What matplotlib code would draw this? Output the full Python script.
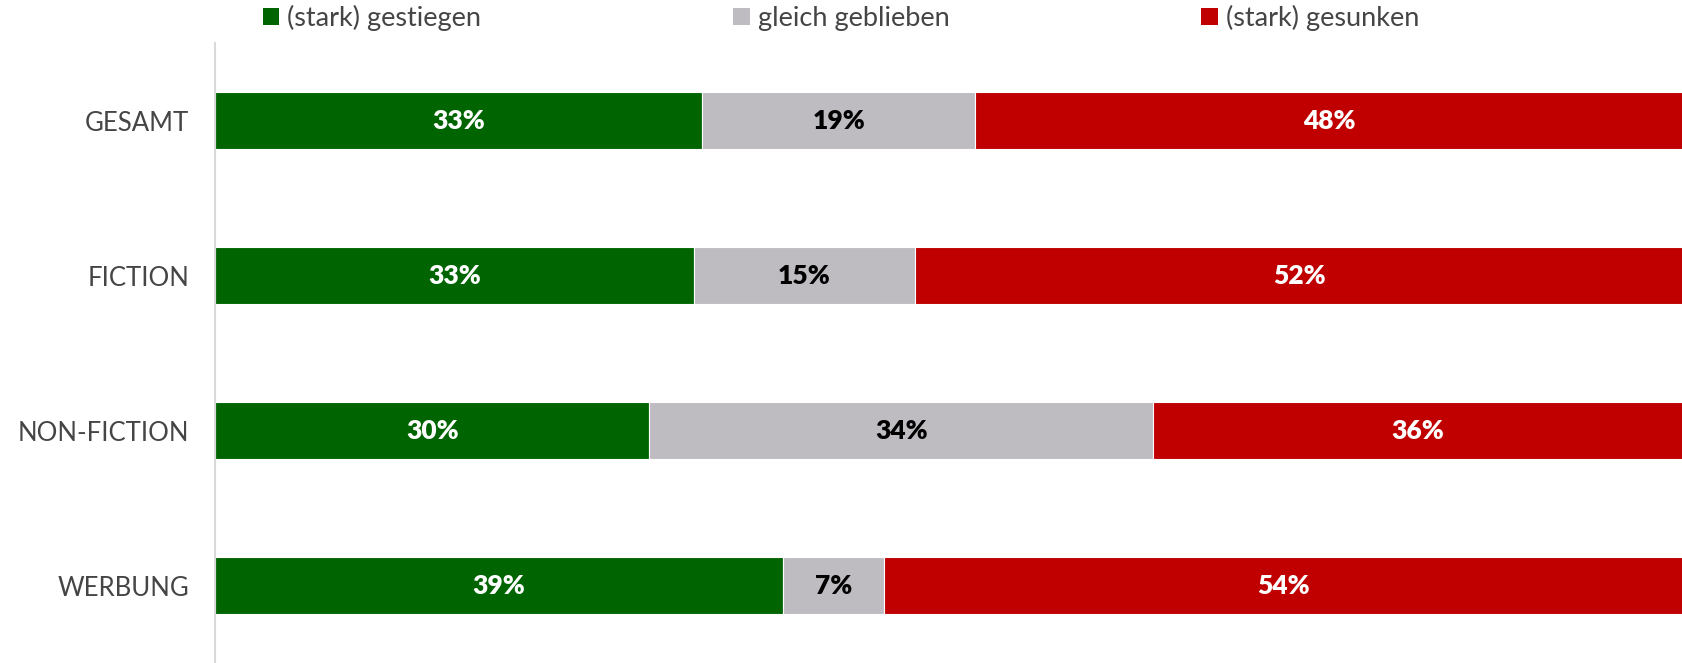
# Veränderung nach Bereich - gestapelte Balken

import matplotlib.pyplot as plt
from matplotlib.patches import Patch

plt.rcParams['font.family'] = ['Lato', 'DejaVu Sans']

# Daten
kategorien = ['GESAMT', 'FICTION', 'NON-FICTION', 'WERBUNG']
gestiegen = [33.2, 32.6, 29.6, 38.7]
gleich = [18.6, 15.1, 34.3, 6.9]
gesunken = [48.2, 52.3, 36.1, 54.4]
serien_namen = ['(stark) gestiegen', 'gleich geblieben', '(stark) gesunken']
farben = ['#006400', '#BEBBC1', '#C00000']
text_farben = ['white', 'black', 'white']

fig = plt.figure(figsize=(16.83, 6.63), dpi=100)
ax = fig.add_axes([0.1277, 0.0, 0.8723, 0.935])

links = [0.0] * len(kategorien)
for werte, farbe, tf in zip([gestiegen, gleich, gesunken], farben, text_farben):
    bars = ax.barh(kategorien, werte, left=links, height=0.37, color=farbe,
                   edgecolor='white', linewidth=0.8)
    for b, v in zip(bars, werte):
        ax.text(b.get_x() + b.get_width() / 2, b.get_y() + b.get_height() / 2,
                f"{v:.0f}%", ha='center', va='center', color=tf,
                fontsize=19, fontweight='heavy')
    links = [l + v for l, v in zip(links, werte)]

ax.set_xlim(0, 100)
ax.set_ylim(3.5, -0.5)
ax.set_xticks([])
ax.tick_params(axis='y', length=0, pad=18.5, labelsize=18.5, labelcolor='#454545')
for s in ['top', 'right', 'bottom']:
    ax.spines[s].set_visible(False)
ax.spines['left'].set_color('#D9D9D9')
ax.spines['left'].set_linewidth(1.5)

# Legende oben
handles = [Patch(facecolor=f, edgecolor='none') for f in farben]
fig.legend(handles, serien_namen, loc='center left', bbox_to_anchor=(0.1563, 0.973),
           ncol=3, frameon=False, prop={'size': 19.5}, labelcolor='#454545',
           handlelength=0.6, handleheight=0.6, handletextpad=0.3,
           columnspacing=9.3, borderpad=0, borderaxespad=0)

plt.savefig('out.png', dpi=100)
